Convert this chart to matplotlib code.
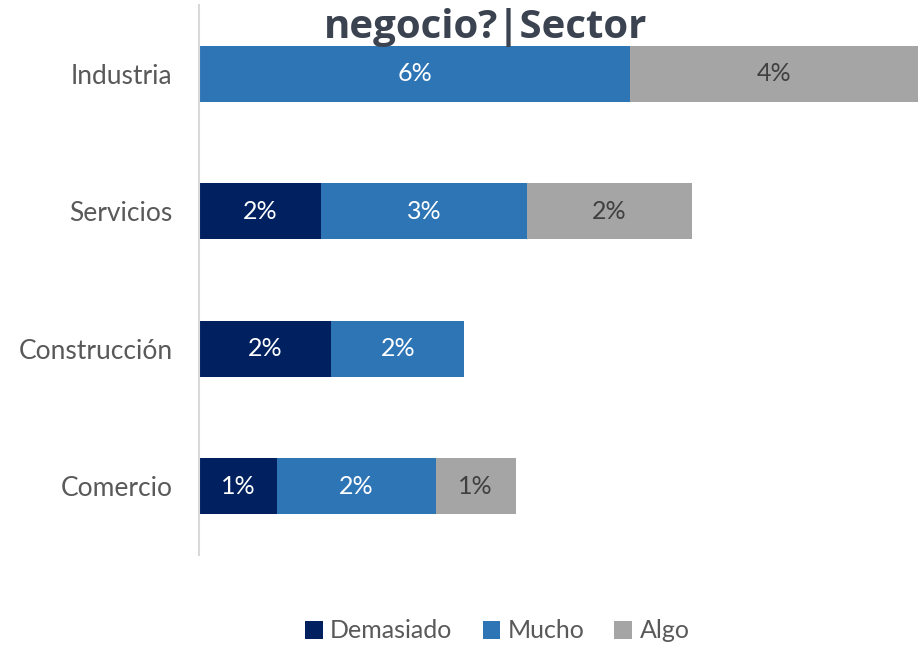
import matplotlib.pyplot as plt
import numpy as np

plt.rcParams['font.family'] = ['Lato', 'DejaVu Sans']

sectors = ['Industria', 'Servicios', 'Construcción', 'Comercio']
series = ['Demasiado', 'Mucho', 'Algo']
demasiado = [0.0, 1.74, 1.89, 1.11]
mucho = [6.16, 2.94, 1.90, 2.27]
algo = [4.11, 2.36, 0.0, 1.14]
colors = ['#002060', '#2E75B6', '#A5A5A5']
text_colors = ['white', 'white', '#404040']

fig = plt.figure(figsize=(9.21, 6.45), dpi=100)
ax = fig.add_axes([199/921, 1 - 555/645, 720/921, 550/645])

y = np.arange(len(sectors))
left = np.zeros(len(sectors))
for name, vals, c, tc in zip(series, [demasiado, mucho, algo], colors, text_colors):
    vals = np.array(vals)
    ax.barh(y, vals, left=left, height=0.41, color=c, label=name)
    for yi, l, v in zip(y, left, vals):
        if v > 0:
            ax.text(l + v / 2, yi, f'{v:.0f}%', ha='center', va='center',
                    color=tc, fontsize=18)
    left += vals

ax.set_xlim(0, 10.28)
ax.set_ylim(3.5, -0.5)
ax.set_yticks(y)
ax.set_yticklabels(sectors, fontsize=19, color='#595959')
ax.tick_params(axis='y', length=0, pad=19)
ax.set_xticks([])
for s in ['top', 'right', 'bottom']:
    ax.spines[s].set_visible(False)
ax.spines['left'].set_color('#D9D9D9')
ax.spines['left'].set_linewidth(1.5)

fig.text(0.527, 1 - 38/645, 'negocio?|Sector', ha='center', va='baseline',
         fontsize=29, fontweight='bold', color='#3B4351', family='Open Sans')

fig.legend(loc='center', bbox_to_anchor=(0.54, 1 - 631/645), ncol=3, frameon=False,
           fontsize=18, handlelength=0.7, handleheight=0.7, handletextpad=0.3,
           columnspacing=1.2, labelcolor='#595959')

fig.savefig('out.png', dpi=100)
